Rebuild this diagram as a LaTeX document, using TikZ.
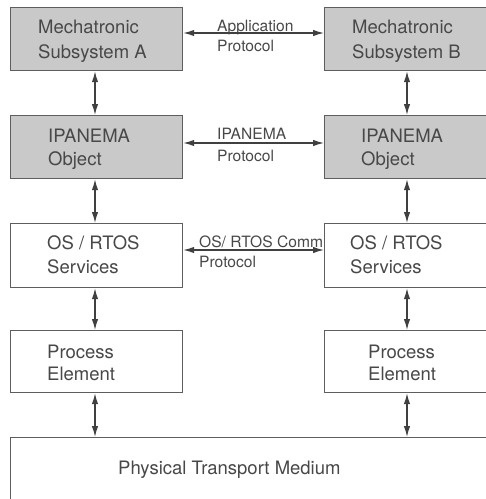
\documentclass[tikz,border=0pt]{standalone}
\usepackage{fontspec}
\setmainfont{TeX Gyre Heros}
\usetikzlibrary{arrows.meta}
\definecolor{boxfill}{HTML}{C9C9C9}
\definecolor{boxline}{HTML}{5E5E5E}
\definecolor{txt}{HTML}{484848}
\definecolor{arrcol}{HTML}{404040}
\tikzset{
  box/.style={draw=boxline, line width=1.2pt, anchor=north west, inner sep=0pt},
  shaded/.style={box, fill=boxfill},
  plain/.style={box, fill=white},
  btxt/.style={anchor=base west, inner sep=0pt, text=txt, font=\fontsize{18.5}{22}\selectfont},
  ltxt/.style={anchor=base west, inner sep=0pt, text=txt, font=\fontsize{15.6}{19}\selectfont},
  arr/.style={draw=arrcol, line width=1.3pt, {Latex[length=11pt,width=6.5pt]}-{Latex[length=11pt,width=6.5pt]}}
}
\begin{document}
\begin{tikzpicture}[x=1pt,y=-1pt]
\useasboundingbox (0,0) rectangle (486,499);
\clip (0,0) rectangle (486,499);
% labels (drawn first so boxes cover overflow)
\node[ltxt] (l1a) at (217,31) {Application};
\node[ltxt] (l1b) at (217,51) {Protocol};
\node[ltxt] (l2a) at (217,139) {IPANEMA};
\node[ltxt] (l2b) at (217,161) {Protocol};
\node[ltxt] (l3a) at (199,247) {OS/ RTOS Comm};
\node[ltxt] (l3b) at (199,267) {Protocol};
% boxes
\node[shaded, minimum width=172pt, minimum height=63pt] (a1) at (10,7) {};
\node[shaded, minimum width=166pt, minimum height=63pt] (b1) at (324,7) {};
\node[shaded, minimum width=172pt, minimum height=63pt] (a2) at (10,115) {};
\node[shaded, minimum width=166pt, minimum height=63pt] (b2) at (324,115) {};
\node[plain, minimum width=172pt, minimum height=64pt] (a3) at (10,223) {};
\node[plain, minimum width=166pt, minimum height=64pt] (b3) at (324,223) {};
\node[plain, minimum width=172pt, minimum height=62pt] (a4) at (10,330) {};
\node[plain, minimum width=166pt, minimum height=62pt] (b4) at (324,330) {};
\node[plain, minimum width=490pt, minimum height=80pt] (pm) at (10,437) {};
% box texts
\node[btxt] (ta1a) at (38,33) {Mechatronic};
\node[btxt] (ta1b) at (38,58) {Subsystem A};
\node[btxt] (tb1a) at (352,33) {Mechatronic};
\node[btxt] (tb1b) at (352,58) {Subsystem B};
\node[btxt] (ta2a) at (48,142) {IPANEMA};
\node[btxt] (ta2b) at (48,165) {Object};
\node[btxt] (tb2a) at (361,142) {IPANEMA};
\node[btxt] (tb2b) at (361,165) {Object};
\node[btxt] (ta3a) at (47,249) {OS / RTOS};
\node[btxt] (ta3b) at (47,273) {Services};
\node[btxt] (tb3a) at (350,249) {OS / RTOS};
\node[btxt] (tb3b) at (350,273) {Services};
\node[btxt] (ta4a) at (47,358) {Process};
\node[btxt] (ta4b) at (47,380) {Element};
\node[btxt] (tb4a) at (368,358) {Process};
\node[btxt] (tb4b) at (368,380) {Element};
\node[btxt] (tpm) at (118,474) {Physical Transport Medium};
% horizontal arrows
\coordinate (h1) at (0,33);
\coordinate (h2) at (0,143);
\coordinate (h3) at (0,250);
\draw[arr] (a1.east |- h1) -- (b1.west |- h1);
\draw[arr] (a2.east |- h2) -- (b2.west |- h2);
\draw[arr] (a3.east |- h3) -- (b3.west |- h3);
% vertical arrows
\coordinate (vl) at (95,0);
\coordinate (vr) at (407,0);
\draw[arr] (a1.south -| vl) -- (a2.north -| vl);
\draw[arr] (a2.south -| vl) -- (a3.north -| vl);
\draw[arr] (a3.south -| vl) -- (a4.north -| vl);
\draw[arr] (a4.south -| vl) -- (pm.north -| vl);
\draw[arr] (b1.south -| vr) -- (b2.north -| vr);
\draw[arr] (b2.south -| vr) -- (b3.north -| vr);
\draw[arr] (b3.south -| vr) -- (b4.north -| vr);
\draw[arr] (b4.south -| vr) -- (pm.north -| vr);
\end{tikzpicture}
\end{document}
